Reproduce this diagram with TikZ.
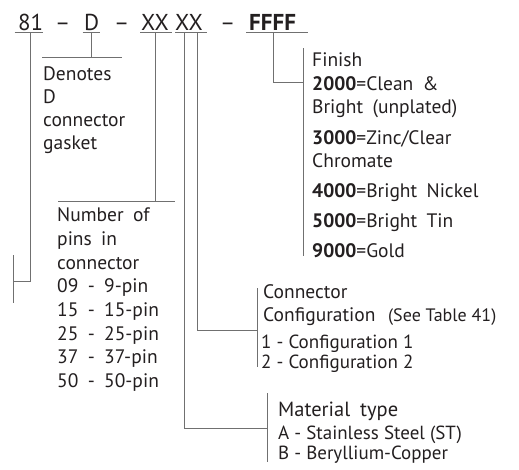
\documentclass[tikz,border=0pt]{standalone}
\usepackage{fontspec}
\setmainfont{PT Sans}[WordSpace=1.8]
\newfontfamily\condfont{PT Sans}[WordSpace=1.0]
\definecolor{txt}{HTML}{231F20}
\definecolor{ln}{HTML}{707070}
\tikzset{
  lbl/.style={anchor=base west, inner sep=0pt, text=txt, font=\fontsize{19.5}{23}\selectfont},
  sml/.style={anchor=base west, inner sep=0pt, text=txt, font=\condfont\fontsize{19}{22}\selectfont},
  toptxt/.style={anchor=base west, inner sep=0pt, text=txt, font=\fontsize{23}{26}\selectfont},
  wire/.style={draw=ln, line width=1pt},
}
\begin{document}
\begin{tikzpicture}[x=1pt,y=-1pt]
\path[use as bounding box] (0,0) rectangle (519,469);
% top row
\node[toptxt] (n81) at (18,30) {81};
\node[toptxt] (d1) at (55,30) {–};
\node[toptxt] (nD) at (84,30) {D};
\node[toptxt] (d2) at (114,30) {–};
\node[toptxt] (x1) at (141,30) {XX};
\node[toptxt] (x2) at (175,30) {XX};
\node[toptxt] (d3) at (220,30) {–};
\node[toptxt,font=\bfseries\fontsize{23}{26}\selectfont] (ff) at (249,30) {FFFF};
% underlines
\draw[wire] (14.5,32.5) -- (43,32.5);
\draw[wire] (82.5,32.5) -- (100,32.5);
\draw[wire] (140,32.5) -- (172,32.5);
\draw[wire] (175,32.5) -- (207,32.5);
\draw[wire] (246,32.5) -- (308,32.5);
% stem coordinates
\coordinate (s81) at (30,32.5);
\coordinate (sD) at (91,32.5);
\coordinate (sX1) at (155,32.5);
\coordinate (sX2a) at (184,32.5);
\coordinate (sX2b) at (197,32.5);
\coordinate (sF) at (273.5,32.5);
\coordinate (e81) at (13,281);
\coordinate (eD) at (91,57);
\coordinate (eX1) at (155,201);
\coordinate (eX2a) at (267,428);
\coordinate (eX2b) at (257,330);
\coordinate (eF) at (303,82);
% stems
\draw[wire] (s81) |- (e81);
\draw[wire] (sD) -- (eD);
\draw[wire] (sX1) -- (eX1);
\draw[wire] (sX2a) |- (eX2a);
\draw[wire] (sX2b) |- (eX2b);
\draw[wire] (sF) |- (eF);
% bars / brackets
\draw[wire] (13,255) -- (13,303);
\draw[wire] (42,57) -- (122,57);
\draw[wire] (58,201) -- (175,201);
\draw[wire] (267,393) -- (267,462);
\draw[wire] (257,288) -- (257,367);
\draw[wire] (303,48) -- (303,256);
% Denotes block
\node[lbl] (t1) at (43,80) {Denotes};
\node[lbl] (t2) at (43,103) {D};
\node[lbl] (t3) at (43,126) {connector};
\node[lbl] (t4) at (43,149) {gasket};
% pins block
\node[lbl] (p1) at (57,221) {Number of};
\node[lbl] (p2) at (57,245) {pins in};
\node[lbl] (p3) at (57,269) {connector};
\node[lbl] (p4) at (57,292) {09 - 9-pin};
\node[lbl] (p5) at (57,316) {15 - 15-pin};
\node[lbl] (p6) at (57,340) {25 - 25-pin};
\node[lbl] (p7) at (57,363) {37 - 37-pin};
\node[lbl] (p8) at (57,387) {50 - 50-pin};
% finish block
\node[lbl] (f1) at (312,66) {Finish};
\node[lbl] (f2) at (312,90) {\textbf{2000}=Clean \&};
\node[lbl] (f3) at (312,113) {Bright (unplated)};
\node[lbl] (f4) at (312,144) {\textbf{3000}=Zinc/Clear};
\node[lbl] (f5) at (312,167) {Chromate};
\node[lbl] (f6) at (312,197) {\textbf{4000}=Bright Nickel};
\node[lbl] (f7) at (312,227) {\textbf{5000}=Bright Tin};
\node[lbl] (f8) at (312,257) {\textbf{9000}=Gold};
% configuration block
\node[lbl] (c1) at (263,298) {Connector};
\node[lbl] (c2) at (263,321) {Configuration};
\node[sml,font=\condfont\fontsize{18}{21}\selectfont] (c3) at (388,321) {(See Table 41)};
\node[sml] (c4) at (261,348) {1 - Configuration 1};
\node[sml] (c5) at (261,368) {2 - Configuration 2};
% material block
\node[lbl,font=\fontsize{20.5}{24}\selectfont] (m1) at (278,416) {Material type};
\node[sml] (m2) at (278,439) {A - Stainless Steel (ST)};
\node[sml] (m3) at (278,459) {B - Beryllium-Copper};
\end{tikzpicture}
\end{document}
